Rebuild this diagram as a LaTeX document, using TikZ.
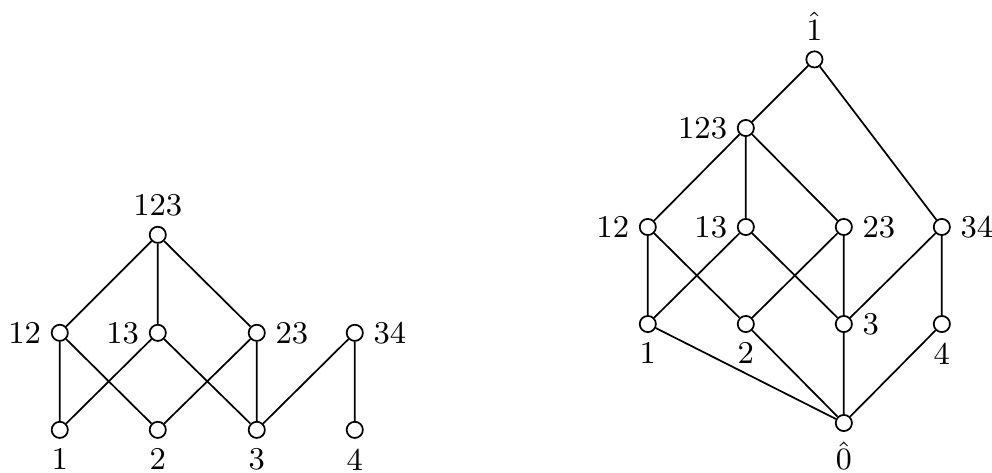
\documentclass[tikz,border=0pt]{standalone}
\begin{document}
\begin{tikzpicture}[x=1cm,y=1cm,
  vtx/.style={circle,draw,fill=white,inner sep=0pt,minimum size=4.7pt},
  every label/.style={font=\fontsize{9.2}{11}\selectfont,inner sep=2.6pt},
  every path/.style={line width=0.5pt}]
\useasboundingbox (0,0) rectangle (10.122,4.816);
% left poset
\node[vtx,label=below:1] (a1) at (0.61,0.43) {};
\node[vtx,label=below:2] (a2) at (1.61,0.43) {};
\node[vtx,label=below:3] (a3) at (2.62,0.43) {};
\node[vtx,label=below:4] (a4) at (3.62,0.43) {};
\node[vtx,label=left:12] (a12) at (0.61,1.42) {};
\node[vtx,label=left:13] (a13) at (1.61,1.42) {};
\node[vtx,label=right:23] (a23) at (2.62,1.42) {};
\node[vtx,label=right:34] (a34) at (3.62,1.42) {};
\node[vtx,label=above:123] (a123) at (1.61,2.42) {};
\draw (a1)--(a12) (a1)--(a13) (a2)--(a12) (a2)--(a23) (a3)--(a13) (a3)--(a23) (a3)--(a34) (a4)--(a34);
\draw (a12)--(a123) (a13)--(a123) (a23)--(a123);
% right lattice
\node[vtx,label=below:$\hat{0}$] (b0) at (8.61,0.5) {};
\node[vtx,label=below:1] (b1) at (6.61,1.51) {};
\node[vtx,label=below:2] (b2) at (7.61,1.51) {};
\node[vtx,label=right:3] (b3) at (8.61,1.51) {};
\node[vtx,label=below:4] (b4) at (9.61,1.51) {};
\node[vtx,label=left:12] (b12) at (6.61,2.5) {};
\node[vtx,label=left:13] (b13) at (7.61,2.5) {};
\node[vtx,label=right:23] (b23) at (8.61,2.5) {};
\node[vtx,label=right:34] (b34) at (9.61,2.5) {};
\node[vtx,label=left:123] (b123) at (7.61,3.51) {};
\node[vtx,label=above:$\hat{1}$] (b1h) at (8.31,4.21) {};
\draw (b0)--(b1) (b0)--(b2) (b0)--(b3) (b0)--(b4);
\draw (b1)--(b12) (b1)--(b13) (b2)--(b12) (b2)--(b23) (b3)--(b13) (b3)--(b23) (b3)--(b34) (b4)--(b34);
\draw (b12)--(b123) (b13)--(b123) (b23)--(b123);
\draw (b123)--(b1h) (b34)--(b1h);
\end{tikzpicture}
\end{document}
